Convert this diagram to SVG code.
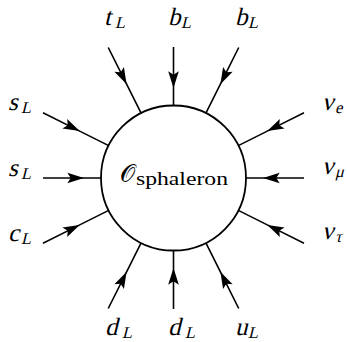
<svg xmlns="http://www.w3.org/2000/svg" width="347" height="342" viewBox="0 0 347 342">
<style>
.ln{stroke:#000;stroke-width:1.6;fill:none;marker-mid:url(#arr)}
text{fill:#000;font-family:'Liberation Serif','Times New Roman',serif}
.lbl{font-size:25px}
.sub{font-size:16.5px}
.rm{font-size:19px}
</style>
<defs>
<marker id="arr" markerUnits="userSpaceOnUse" markerWidth="20" markerHeight="20" viewBox="-16 -6 18 12" refX="0" refY="0" orient="auto" overflow="visible">
<path d="M0,0 L-15,-4.8 L-12,0 L-15,4.8 Z" fill="#000"/>
</marker>
</defs>
<g id="connectors">
<path class="ln" d="M173.5,47 L173.5,88 L173.5,105.5"/>
<path class="ln" d="M108.25,47.5 L126.6,84.2 L141.1,113.2"/>
<path class="ln" d="M238.75,47.5 L220.4,84.2 L205.9,113.2"/>
<path class="ln" d="M43,112.75 L79.7,131.1 L108.7,145.6"/>
<path class="ln" d="M43,178 L84,178 L101,178"/>
<path class="ln" d="M43,243.25 L79.7,224.9 L108.7,210.4"/>
<path class="ln" d="M304,112.75 L267.3,131.1 L238.3,145.6"/>
<path class="ln" d="M304,178 L263,178 L246,178"/>
<path class="ln" d="M304,243.25 L267.3,224.9 L238.3,210.4"/>
<path class="ln" d="M108.25,308.5 L126.6,271.8 L141.1,242.8"/>
<path class="ln" d="M173.5,309 L173.5,268 L173.5,250.5"/>
<path class="ln" d="M238.75,308.5 L220.4,271.8 L205.9,242.8"/>
</g>
<g id="sphaleron">
<circle cx="173.5" cy="178" r="72.5" fill="#fff" stroke="#000" stroke-width="1.8"/>
<text x="120" y="182" style="font-family:'DejaVu Serif',serif;font-size:24px">𝒪</text>
<text x="136" y="185" class="rm" textLength="92" lengthAdjust="spacingAndGlyphs">sphaleron</text>
</g>
<g id="tL"><text transform="translate(104,25) skewX(-14)" class="lbl">t</text><text transform="translate(115,28) skewX(-14)" class="sub">L</text></g>
<g id="bL1"><text transform="translate(168,25) skewX(-14)" class="lbl">b</text><text transform="translate(181,28) skewX(-14)" class="sub">L</text></g>
<g id="bL2"><text transform="translate(235,25) skewX(-14)" class="lbl">b</text><text transform="translate(248,28) skewX(-14)" class="sub">L</text></g>
<g id="sL1"><text transform="translate(8,110) skewX(-14)" class="lbl">s</text><text transform="translate(21,113) skewX(-14)" class="sub">L</text></g>
<g id="sL2"><text transform="translate(8,176) skewX(-14)" class="lbl">s</text><text transform="translate(21,179) skewX(-14)" class="sub">L</text></g>
<g id="cL"><text transform="translate(8,241) skewX(-14)" class="lbl">c</text><text transform="translate(21,244) skewX(-14)" class="sub">L</text></g>
<g id="nue"><text transform="translate(322,110) skewX(-14)" class="lbl">ν</text><text transform="translate(335,113) skewX(-14)" class="sub">e</text></g>
<g id="numu"><text transform="translate(322,174) skewX(-14)" class="lbl">ν</text><text transform="translate(335,177) skewX(-14)" class="sub">μ</text></g>
<g id="nutau"><text transform="translate(322,239) skewX(-14)" class="lbl">ν</text><text transform="translate(335,242) skewX(-14)" class="sub">τ</text></g>
<g id="dL1"><text transform="translate(105,335) skewX(-14)" class="lbl">d</text><text transform="translate(122,337.5) skewX(-14)" class="sub">L</text></g>
<g id="dL2"><text transform="translate(168,335) skewX(-14)" class="lbl">d</text><text transform="translate(185,337.5) skewX(-14)" class="sub">L</text></g>
<g id="uL"><text transform="translate(235,335) skewX(-14)" class="lbl">u</text><text transform="translate(248,337.5) skewX(-14)" class="sub">L</text></g>
</svg>
